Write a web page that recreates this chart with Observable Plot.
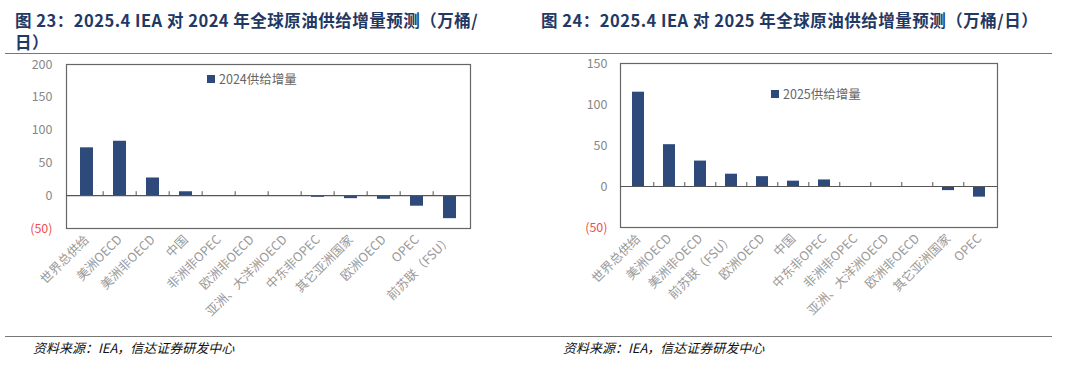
<!DOCTYPE html>
<html><head><meta charset="utf-8">
<script src="https://cdn.jsdelivr.net/npm/d3@7"></script>
<script src="https://cdn.jsdelivr.net/npm/@observablehq/plot@0.6"></script>
<style>
body{margin:0;background:#fff;font-family:"Noto Sans CJK SC",sans-serif;}
#wrap{position:relative;width:1080px;height:367px;overflow:hidden;}
.title{position:absolute;font-weight:bold;color:#1f3864;font-size:16.5px;line-height:22px;white-space:nowrap;letter-spacing:0.5px;}
.rule{position:absolute;height:0;border-top:1.5px solid #777;}
.src{position:absolute;font-style:italic;font-size:13px;color:#111;font-family:"Noto Sans CJK SC",serif;}
.legend{position:absolute;font-size:12.5px;color:#666;display:flex;align-items:center;gap:4px;}
.legend i{display:inline-block;width:8px;height:8px;background:#2e4a7a;}
.chart{position:absolute;}
.chart svg{overflow:visible;}
</style></head>
<body><div id="wrap">
<div class="title" style="left:15px;top:9px;">图 23：2025.4 IEA 对 2024 年全球原油供给增量预测（万桶/<br>日）</div>
<div class="title" style="left:541px;top:9px;">图 24：2025.4 IEA 对 2025 年全球原油供给增量预测（万桶/日）</div>
<div class="rule" style="left:5px;top:53px;width:535px;"></div>
<div class="rule" style="left:540px;top:53px;width:512px;"></div>
<div class="rule" style="left:5px;top:336px;width:535px;"></div>
<div class="rule" style="left:540px;top:336px;width:512px;"></div>
<div class="src" style="left:33px;top:338px;">资料来源：IEA，信达证券研发中心</div>
<div class="src" style="left:563px;top:338px;">资料来源：IEA，信达证券研发中心</div>
<div id="c1" class="chart" style="left:0;top:55px;"></div>
<div id="c2" class="chart" style="left:540px;top:55px;"></div>
<div class="legend" style="left:207px;top:69px;"><i></i>2024供给增量</div>
<div class="legend" style="left:771px;top:84px;"><i></i>2025供给增量</div>
</div>
<script>
const cats24 = ["世界总供给","美洲OECD","美洲非OECD","中国","非洲非OPEC","欧洲非OECD","亚洲、大洋洲OECD","中东非OPEC","其它亚洲国家","欧洲OECD","OPEC","前苏联（FSU）"];
const vals24 = [73, 83, 27, 6, -1, 0, -1, -2.5, -4.5, -5.5, -16, -35];
const ticks24 = [-50, 0, 50, 100, 150, 200];

const cats25 = ["世界总供给","美洲OECD","美洲非OECD","前苏联（FSU）","欧洲OECD","中国","中东非OPEC","非洲非OPEC","亚洲、大洋洲OECD","欧洲非OECD","其它亚洲国家","OPEC"];
const vals25 = [115, 51, 31, 15, 12, 6.5, 8, 0, -1, 0, -5, -13];
const ticks25 = [-50, 0, 50, 100, 150];

function makeChart(cats, vals, ticks, m) {
  const data = cats.map((c, i) => ({cat: c, v: vals[i]}));
  const h = 280;
  const plotH = h - m.top - m.bottom;
  const dom = [d3.min(ticks), d3.max(ticks)];
  const tickLen = 4 * (dom[1] - dom[0]) / plotH;
  return Plot.plot({
    width: 540, height: h,
    marginLeft: m.left, marginRight: m.right, marginTop: m.top, marginBottom: m.bottom,
    style: {fontFamily: "'Noto Sans CJK SC', sans-serif", fontSize: "12px", background: "transparent", overflow: "visible"},
    x: {domain: cats, paddingInner: 0.6, paddingOuter: 0.3, label: null},
    y: {domain: dom, label: null},
    marks: [
      Plot.frame({stroke: "#666", strokeWidth: 1.2}),
      Plot.barY(data, {x: "cat", y: "v", fill: "#2e4a7a"}),
      Plot.ruleY([0], {stroke: "#555", strokeWidth: 1.2}),
      Plot.ruleX(cats.slice(1), {x: d => d, y1: 0, y2: tickLen, dx: -(540 - m.left - m.right) / cats.length / 2, stroke: "#555"}),
      Plot.axisY(ticks.filter(t => t >= 0), {tickSize: 0, tickPadding: m.pad, fill: "#888", fontSize: 12.5}),
      Plot.axisY(ticks.filter(t => t < 0), {tickSize: 0, tickPadding: m.pad, fill: "#f05050", fontSize: 12.5, tickFormat: d => `(${-d})`}),
      Plot.axisX({tickSize: 0, tickPadding: 9, tickRotate: -45, fill: "#999", fontSize: 12.5})
    ]
  });
}
document.getElementById("c1").append(makeChart(cats24, vals24, ticks24, {left: 66, right: 70, top: 9, bottom: 107, pad: 14}));
document.getElementById("c2").append(makeChart(cats25, vals25, ticks25, {left: 80, right: 83, top: 8, bottom: 108, pad: 13}));
</script>
</body></html>
